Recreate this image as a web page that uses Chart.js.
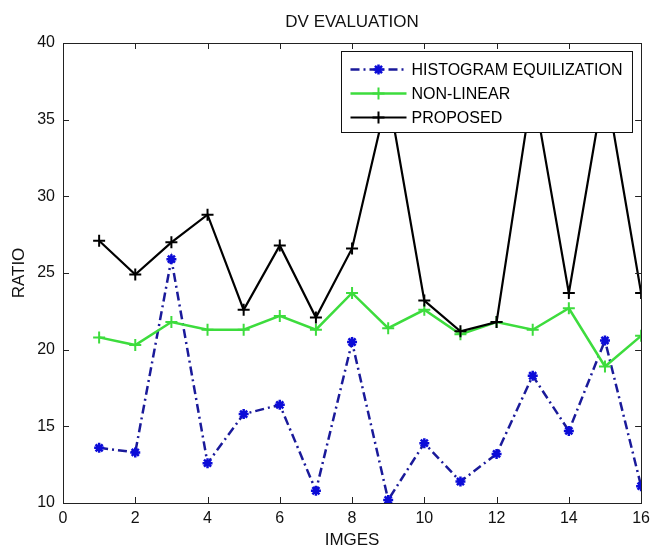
<!DOCTYPE html>
<html lang="en">
<head>
    <meta charset="UTF-8">
    <title>DV Evaluation</title>
    <style>
        html, body {
            margin: 0;
            padding: 0;
            background: #fff;
        }
        #wrap {
            width: 656px;
            height: 547px;
        }
    </style>
</head>
<body>
    <div id="wrap">
        <canvas id="dv-chart" width="656" height="547"></canvas>
    </div>

    <script src="https://cdn.jsdelivr.net/npm/chart.js"></script>
    <script>
        // values
        const images = [1, 2, 3, 4, 5, 6, 7, 8, 9, 10, 11, 12, 13, 14, 15, 16];
        const histEq = [13.6, 13.3, 25.9, 12.6, 15.8, 16.4, 10.8, 20.5, 10.2, 13.9, 11.4, 13.2, 18.3, 14.7, 20.6, 11.1];
        const nonLinear = [20.8, 20.3, 21.8, 21.3, 21.3, 22.2, 21.3, 23.7, 21.4, 22.6, 21.0, 21.8, 21.3, 22.7, 18.9, 20.9];
        const proposed = [27.1, 24.9, 27.0, 28.8, 22.6, 26.8, 22.1, 26.6, 36.7, 23.2, 21.2, 21.8, 37.2, 23.7, 37.5, 23.7];
        const seriesNames = ['HISTOGRAM EQUILIZATION', 'NON-LINEAR', 'PROPOSED'];
        const xTicks = [0, 2, 4, 6, 8, 10, 12, 14, 16];
        const yTicks = [10, 15, 20, 25, 30, 35, 40];
        const chartTitle = 'DV EVALUATION';

        const FONT = "'Liberation Sans', Arial, Helvetica, sans-serif";

        function toPoints(ys) {
            return images.map((x, i) => ({ x: x, y: ys[i] }));
        }

        // MATLAB style box with inward ticks on all four sides, title centred on the axes
        const boxAxes = {
            id: 'boxAxes',
            afterDatasetsDraw(chart) {
                const ctx = chart.ctx;
                const a = chart.chartArea;
                const xs = chart.scales.x, ys = chart.scales.y;
                ctx.save();
                ctx.strokeStyle = '#222';
                ctx.lineWidth = 1;
                ctx.strokeRect(Math.round(a.left) + 0.5, Math.round(a.top) + 0.5,
                    Math.round(a.right - a.left), Math.round(a.bottom - a.top));
                ctx.beginPath();
                xs.ticks.forEach(t => {
                    const px = Math.round(xs.getPixelForValue(t.value)) + 0.5;
                    ctx.moveTo(px, a.bottom);
                    ctx.lineTo(px, a.bottom - 6);
                    ctx.moveTo(px, a.top);
                    ctx.lineTo(px, a.top + 6);
                });
                ys.ticks.forEach(t => {
                    const py = Math.round(ys.getPixelForValue(t.value)) + 0.5;
                    ctx.moveTo(a.left, py);
                    ctx.lineTo(a.left + 6, py);
                    ctx.moveTo(a.right, py);
                    ctx.lineTo(a.right - 6, py);
                });
                ctx.stroke();

                ctx.fillStyle = '#111';
                ctx.font = '17px ' + FONT;
                ctx.textAlign = 'center';
                ctx.textBaseline = 'middle';
                ctx.fillText(chartTitle, (a.left + a.right) / 2, 22);
                ctx.restore();
            }
        };

        function drawMarker(ctx, style, x, y, r) {
            ctx.beginPath();
            ctx.moveTo(x - r, y);
            ctx.lineTo(x + r, y);
            ctx.moveTo(x, y - r);
            ctx.lineTo(x, y + r);
            if (style === 'star') {
                const d = r * Math.SQRT1_2;
                ctx.moveTo(x - d, y - d);
                ctx.lineTo(x + d, y + d);
                ctx.moveTo(x - d, y + d);
                ctx.lineTo(x + d, y - d);
            }
            ctx.stroke();
        }

        // opaque legend box in the upper right corner of the axes
        const boxLegend = {
            id: 'boxLegend',
            afterDraw(chart) {
                const ctx = chart.ctx;
                const a = chart.chartArea;
                ctx.save();
                ctx.font = '16px ' + FONT;
                const textW = Math.max(...chart.data.datasets.map(d => ctx.measureText(d.label).width));
                const sample = 56, padL = 9, gap = 5, padR = 10, rowH = 24;
                const w = padL + sample + gap + textW + padR;
                const h = rowH * chart.data.datasets.length + 9;
                const right = a.right - 9;
                const left = Math.round(right - w) + 0.5;
                const top = Math.round(a.top + 8) + 0.5;
                ctx.fillStyle = '#fff';
                ctx.fillRect(left, top, w, h);
                ctx.strokeStyle = '#111';
                ctx.lineWidth = 1;
                ctx.strokeRect(left, top, w, h);
                chart.data.datasets.forEach((ds, i) => {
                    const cy = top + 18 + i * rowH;
                    const x0 = left + padL, x1 = x0 + sample;
                    ctx.strokeStyle = ds.borderColor;
                    ctx.lineWidth = ds.borderWidth;
                    ctx.setLineDash(ds.borderDash || []);
                    ctx.beginPath();
                    ctx.moveTo(x0, cy);
                    ctx.lineTo(x1, cy);
                    ctx.stroke();
                    ctx.setLineDash([]);
                    ctx.strokeStyle = ds.pointBorderColor;
                    ctx.lineWidth = ds.pointBorderWidth;
                    drawMarker(ctx, ds.pointStyle, (x0 + x1) / 2, cy, ds.pointRadius);
                    ctx.fillStyle = '#000';
                    ctx.textBaseline = 'middle';
                    ctx.textAlign = 'left';
                    ctx.fillText(ds.label, x1 + gap, cy + 1);
                });
                ctx.restore();
            }
        };

        const ctx = document.getElementById('dv-chart').getContext('2d');
        const dvChart = new Chart(ctx, {
            type: 'line',
            data: {
                datasets: [{
                    label: seriesNames[0],
                    data: toPoints(histEq),
                    borderColor: '#1a1a9a',
                    borderWidth: 2.5,
                    borderDash: [9, 4, 2, 4],
                    pointStyle: 'star',
                    pointRadius: 5,
                    pointBorderWidth: 2.5,
                    pointBorderColor: '#0c0cd8',
                    pointBackgroundColor: '#0c0cd8',
                    order: 3
                }, {
                    label: seriesNames[1],
                    data: toPoints(nonLinear),
                    borderColor: '#3ddc3d',
                    borderWidth: 2.5,
                    pointStyle: 'cross',
                    pointRadius: 6,
                    pointBorderWidth: 2,
                    pointBorderColor: '#3ddc3d',
                    pointBackgroundColor: '#3ddc3d',
                    order: 2
                }, {
                    label: seriesNames[2],
                    data: toPoints(proposed),
                    borderColor: '#000',
                    borderWidth: 2.2,
                    pointStyle: 'cross',
                    pointRadius: 6,
                    pointBorderWidth: 2,
                    pointBorderColor: '#000',
                    pointBackgroundColor: '#000',
                    order: 1
                }]
            },
            options: {
                responsive: false,
                animation: false,
                events: [],
                layout: { padding: { top: 43, right: 9 } },
                plugins: {
                    legend: { display: false },
                    tooltip: { enabled: false },
                    title: { display: false }
                },
                scales: {
                    x: {
                        type: 'linear',
                        min: 0,
                        max: 16,
                        afterFit: s => { s.height = 44; },
                        afterBuildTicks: s => { s.ticks = xTicks.map(v => ({ value: v })); },
                        grid: { display: false, drawTicks: false },
                        border: { display: false },
                        ticks: {
                            color: '#111',
                            padding: 6,
                            maxRotation: 0,
                            font: { family: FONT, size: 16 }
                        },
                        title: {
                            display: true,
                            text: 'IMGES',
                            color: '#111',
                            font: { family: FONT, size: 17 },
                            padding: { top: 0, bottom: -4 }
                        }
                    },
                    y: {
                        min: 10,
                        max: 40,
                        afterFit: s => { s.width = 63; },
                        afterBuildTicks: s => { s.ticks = yTicks.map(v => ({ value: v })); },
                        grid: { display: false, drawTicks: false },
                        border: { display: false },
                        ticks: {
                            color: '#111',
                            padding: 8,
                            font: { family: FONT, size: 16 }
                        },
                        title: {
                            display: true,
                            text: 'RATIO',
                            color: '#111',
                            font: { family: FONT, size: 17 },
                            padding: { top: 9, bottom: 0 }
                        }
                    }
                }
            },
            plugins: [boxAxes, boxLegend]
        });
    </script>
</body>
</html>
